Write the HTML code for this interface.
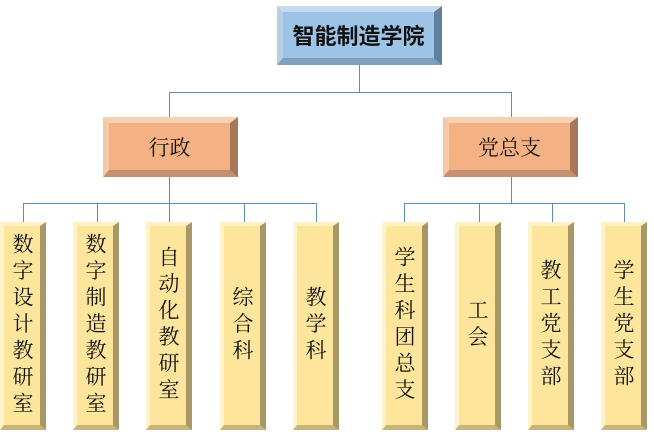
<!DOCTYPE html>
<html><head><meta charset="utf-8"><style>
body{margin:0;width:654px;height:435px;background:#fff;position:relative;overflow:hidden}
.b{position:absolute;box-sizing:border-box;border-style:solid;display:flex;align-items:center;justify-content:center}
.top{left:277px;top:6px;width:165px;height:59px;border-width:6px 8px 7px 6px;border-color:#c7dcf0 #5e7f9e #7f9fbf #b5cfe8;background:#9dc3e6;font:bold 22px "Liberation Sans","Noto Sans CJK SC",sans-serif;color:#111}
.mid{top:117px;width:135px;height:60px;border-width:6px 8px 7px 6px;border-color:#f8d1b5 #a8765a #c49070 #f6c8a6;background:#f4b183;font:21px "Liberation Serif","Noto Serif CJK SC",serif;color:#111}
.leaf{top:222px;width:46px;height:208px;border-width:4px 6px 5px 4px;border-color:#fff0c6 #a89868 #c8b37a #fff3cc;background:#fde59c;font:21px/26px "Liberation Serif","Noto Serif CJK SC",serif;color:#111;writing-mode:vertical-rl;text-orientation:upright;letter-spacing:5.5px}
.l{position:absolute;background:#5b8db8}
</style></head><body>
<div class="l" style="left:359px;top:65px;width:1px;height:27px"></div>
<div class="l" style="left:169px;top:92px;width:343px;height:1px"></div>
<div class="l" style="left:169px;top:92px;width:1px;height:25px"></div>
<div class="l" style="left:511px;top:92px;width:1px;height:25px"></div>
<div class="l" style="left:169px;top:177px;width:1px;height:26px"></div>
<div class="l" style="left:23px;top:203px;width:294px;height:1px"></div>
<div class="l" style="left:23px;top:203px;width:1px;height:19px"></div>
<div class="l" style="left:97px;top:203px;width:1px;height:19px"></div>
<div class="l" style="left:169px;top:203px;width:1px;height:19px"></div>
<div class="l" style="left:244px;top:203px;width:1px;height:19px"></div>
<div class="l" style="left:316px;top:203px;width:1px;height:19px"></div>
<div class="l" style="left:511px;top:177px;width:1px;height:26px"></div>
<div class="l" style="left:404px;top:203px;width:221px;height:1px"></div>
<div class="l" style="left:404px;top:203px;width:1px;height:19px"></div>
<div class="l" style="left:479px;top:203px;width:1px;height:19px"></div>
<div class="l" style="left:552px;top:203px;width:1px;height:19px"></div>
<div class="l" style="left:624px;top:203px;width:1px;height:19px"></div>
<div class="b top">智能制造学院</div>
<div class="b mid" style="left:103px">行政</div>
<div class="b mid" style="left:443px">党总支</div>
<div class="b leaf" style="left:0px">数字设计教研室</div>
<div class="b leaf" style="left:73px">数字制造教研室</div>
<div class="b leaf" style="left:146px">自动化教研室</div>
<div class="b leaf" style="left:220px">综合科</div>
<div class="b leaf" style="left:293px">教学科</div>
<div class="b leaf" style="left:382px">学生科团总支</div>
<div class="b leaf" style="left:455px">工会</div>
<div class="b leaf" style="left:528px">教工党支部</div>
<div class="b leaf" style="left:601px">学生党支部</div>
</body></html>
